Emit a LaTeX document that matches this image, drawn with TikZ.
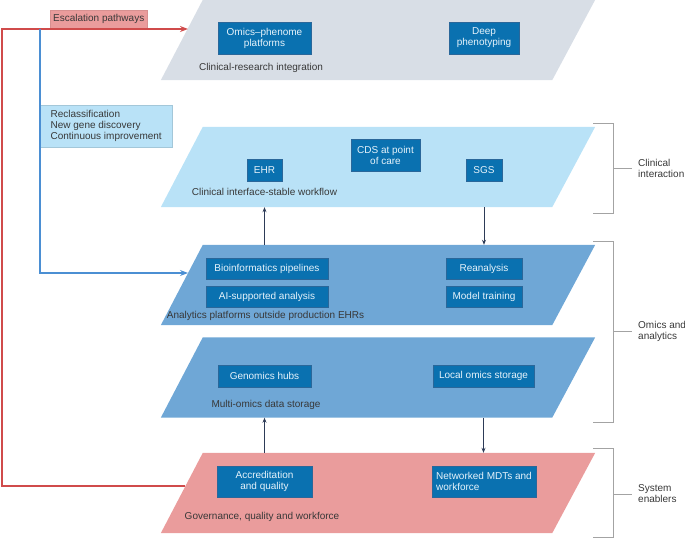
\documentclass[tikz,border=0pt]{standalone}
\usepackage{fontspec}
\setmainfont{Liberation Sans}
\usetikzlibrary{arrows.meta, positioning, backgrounds}
\definecolor{planegray}{HTML}{D8DEE6}
\definecolor{planelight}{HTML}{B9E2F7}
\definecolor{planemid}{HTML}{6FA7D6}
\definecolor{planepink}{HTML}{EA9C9C}
\definecolor{tileblue}{HTML}{0A71B0}
\definecolor{tileedge}{HTML}{2A679A}
\definecolor{tiletext}{HTML}{E6F3FB}
\definecolor{labelgray}{HTML}{383838}
\definecolor{arrownavy}{HTML}{2D3B57}
\definecolor{escred}{HTML}{D04B4B}
\definecolor{fbblue}{HTML}{4B8FD3}
\definecolor{bracegray}{HTML}{A3A3A3}

\begin{document}
\begin{tikzpicture}[x=1bp, y=-1bp,
  font=\fontsize{10bp}{11bp}\selectfont,
  plane/.style={rectangle, minimum width=349bp, minimum height=80bp, inner sep=0pt},
  tile/.style={rectangle, draw=tileedge, fill=tileblue, text=tiletext,
               align=center, inner sep=0pt, line width=0.6pt},
  tag/.style={text=labelgray, inner sep=0pt, align=left},
  arr/.style={-{Stealth[length=5bp,width=4bp]}, line width=0.9pt, color=arrownavy},
  esc/.style={-{Stealth[length=8bp,width=6bp]}, line width=1.5pt, color=escred},
  feedback/.style={-{Stealth[length=8bp,width=6bp]}, line width=1.3pt, color=fbblue},
  brace/.style={draw=bracegray, line width=0.8pt}
]
\useasboundingbox (0,0) rectangle (685,538);

% Planes (body only, slanted fill below)
\node[plane] (p1) at (377.5,40) {};
\node[plane] (p2) at (377.5,167) {};
\node[plane] (p3) at (377.5,285) {};
\node[plane] (p4) at (377.5,377.5) {};
\node[plane] (p5) at (377.5,493) {};
\begin{scope}[on background layer]
  \foreach \p/\c in {p1/planegray, p2/planelight, p3/planemid, p4/planemid, p5/planepink}
    \fill[\c] ([xshift=-42bp]\p.south west) -- (\p.south east)
      -- ([xshift=43bp]\p.north east) -- (\p.north west) -- cycle;
\end{scope}

% Clinical-research integration
\node[tile, minimum width=93bp, minimum height=32bp] (omics) at (264.5,38) {Omics–phenome\\platforms};
\node[tile, minimum width=70bp, minimum height=32bp] (deep) at (484,38) {Deep\\phenotyping};
\node[tag] (l1) at (261,68) {Clinical-research integration};

% Clinical interface
\node[tile, minimum width=35bp, minimum height=22bp] (ehr) at (264.5,170) {EHR};
\node[tile, minimum width=69bp, minimum height=32bp] (cds) at (385.5,155) {CDS at point\\of care};
\node[tile, minimum width=36bp, minimum height=22bp] (sgs) at (484,170) {SGS};
\node[tag] (l2) at (264.5,192) {Clinical interface-stable workflow};

% Analytics
\node[tile, minimum width=122bp, minimum height=21bp] (bio) at (267,268.5) {Bioinformatics pipelines};
\node[tile, minimum width=122bp, minimum height=21bp, below=7bp of bio] (ai) {AI-supported analysis};
\node[tile, minimum width=76bp, minimum height=21bp] (rean) at (484,268.5) {Reanalysis};
\node[tile, minimum width=76bp, minimum height=21bp, below=7bp of rean] (model) {Model training};
\node[tag] (l3) at (265.5,316) {Analytics platforms outside production EHRs};

% Storage
\node[tile, minimum width=93bp, minimum height=22bp] (hubs) at (264.5,376) {Genomics hubs};
\node[tile, minimum width=101bp, minimum height=22bp] (local) at (483.5,376) {Local omics storage};
\node[tag] (l4) at (266,405) {Multi-omics data storage};

% Enablers
\node[tile, minimum width=95bp, minimum height=31bp] (accr) at (264.5,481.5) {Accreditation\\and quality};
\node[tile, minimum width=104bp, minimum height=31bp, align=left] (mdt) at (484,481.5) {Networked MDTs and\\workforce};
\node[tag] (l5) at (262,517) {Governance, quality and workforce};

% Arrows between planes
\draw[arr] (p3.north -| ehr) -- (p2.south -| ehr);
\draw[arr] (p2.south -| sgs) -- (p3.north -| sgs);
\draw[arr] (p5.north -| hubs) -- (p4.south -| hubs);
\draw[arr] (p4.south -| local) -- (p5.north -| local);

% Escalation and feedback
\coordinate (esc5) at (185,486);
\coordinate (esc1) at (188,29);
\coordinate (fb3) at (188,273);
\coordinate (fbtop) at (40,29);
\node[rectangle, fill=planepink, draw=planepink!92!black, line width=0.4pt, text=labelgray,
      minimum width=97bp, minimum height=18bp, inner sep=0pt, anchor=south west]
      (escl) at (50,28) {Escalation pathways};
\node[rectangle, fill=planelight, draw=planelight!88!black, line width=0.4pt, text=labelgray,
      minimum width=132bp, minimum height=42bp, inner sep=0pt, align=left,
      anchor=north west] (reclass) at (40,105) {Reclassification\\New gene discovery\\Continuous improvement};
\draw[esc] (esc5) -| (2,29) -- (esc1);
\draw[feedback] (fbtop) |- (fb3);

% Brackets
\node[tag] (b1) at (638,168) [anchor=west] {Clinical\\interaction};
\node[tag] (b2) at (638,331) [anchor=west] {Omics and\\analytics};
\node[tag] (b3) at (638,494) [anchor=west] {System\\enablers};
\draw[brace] (593,123) -| (613,213) -- (593,213);
\draw[brace] (593,241) -| (613,422) -- (593,422);
\draw[brace] (593,448) -| (613,537) -- (593,537);
\draw[brace, shorten >=6bp] (613,168) -- (b1.west);
\draw[brace, shorten >=6bp] (613,331) -- (b2.west);
\draw[brace, shorten >=6bp] (613,494) -- (b3.west);
\end{tikzpicture}
\end{document}
